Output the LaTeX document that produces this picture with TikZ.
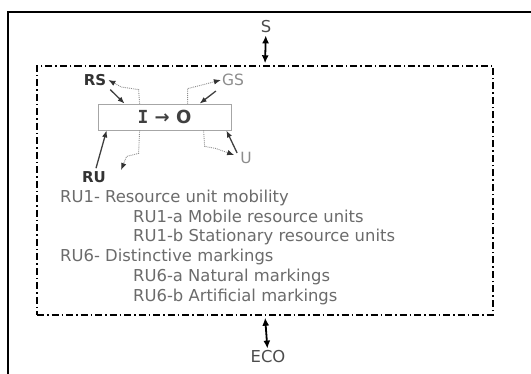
\documentclass[tikz,border=0pt]{standalone}
\usepackage{fontspec}
\setmainfont{DejaVu Sans}
\newfontfamily\slabfont{DejaVu Sans Mono}
\usetikzlibrary{arrows.meta,calc}
\begin{document}
\begin{tikzpicture}[x=1pt,y=-1pt,
  every node/.style={inner sep=1pt, font=\fontsize{16.4}{19}\selectfont},
  lst/.style={anchor=base west, text=black!58, inner sep=0pt},
  blbl/.style={font=\bfseries\fontsize{15}{18}\selectfont, text=black!80},
  glbl/.style={font=\fontsize{15.5}{18}\selectfont, text=black!45},
  tip/.style={-{Latex[length=7pt,width=5.5pt,color=black!80]}},
  solidc/.style={draw=black!75, line width=1.3pt, tip},
  dotc/.style={draw=black!45, densely dotted, line width=0.9pt, tip},
  dbl/.style={{Latex[length=8pt,width=7pt]}-{Latex[length=8pt,width=7pt]}, line width=1.8pt},
  sysbox/.style={draw, line width=1.4pt, dash pattern=on 7pt off 3pt on 1.5pt off 3pt,
    minimum width=456pt, minimum height=249pt, inner sep=0pt},
  iobox/.style={draw=black!35, line width=0.8pt, minimum width=133pt, minimum height=26pt,
    font=\bfseries\fontsize{18}{20}\selectfont, text=black!75},
]
\useasboundingbox (0,0) rectangle (531,374);
\draw[line width=2pt] (8,374) -- (8,12) -- (531,12);

\node[sysbox] (sys) at (265,190.5) {};
\node[text=black!70] (S) at (266,27) {S};
\node[text=black!70] (ECO) at (268,357) {ECO};
\draw[dbl, shorten <=1pt, shorten >=2pt] (S) -- (sys.north);
\draw[dbl, shorten <=2pt, shorten >=1pt] (sys.south) -- (ECO);

\node[iobox] (io) at (164.5,117) {{\slabfont I}\hspace{0.35em}→\hspace{0.35em}O};

\node[blbl] (RS) at (95,80) {RS};
\node[glbl] (GS) at (233,80) {GS};
\node[glbl] (U) at (246,158) {U};
\node[blbl] (RU) at (94,177) {RU};

% RS
\draw[solidc, shorten <=4pt] (RS.south east) -- ($(io.north west)+(27,0)$);
\draw[dotc] ($(io.north west)+(42,0)$) -- ($(io.north west)+(41,-14)$) -- ($(RS.east)+(14,7)$) -- ($(RS.east)+(1,0)$);
% GS
\draw[dotc] ($(io.north west)+(90,0)$) -- ($(io.north west)+(90,-15)$) -- ($(io.north west)+(102,-18)$) -- (GS.west);
\draw[solidc] ($(GS.south west)+(-5,4)$) -- ($(io.north west)+(102,0)$);
% U
\draw[solidc] ($(U.north west)+(-2,2)$) -- ($(io.south east)+(-5,0)$);
\draw[dotc] ($(io.south west)+(106,0)$) -- ($(io.south west)+(107,16)$) -- ($(io.south west)+(118,18)$) -- ($(U.west)+(-5,-3)$);
% RU
\draw[solidc] ($(RU.north)+(2,-2)$) -- ($(io.south west)+(9,0)$);
\draw[dotc] ($(io.south west)+(42,0)$) -- ($(io.south west)+(41,23)$) -- ($(io.south west)+(29,26)$) -- ($(RU.east)+(14,-7)$);

\node[lst] (l1) at (60,203) {RU1- Resource unit mobility};
\node[lst] (l2) at (133,222.5) {RU1-a Mobile resource units};
\node[lst] (l3) at (133,242) {RU1-b Stationary resource units};
\node[lst] (l4) at (60,262) {RU6- Distinctive markings};
\node[lst] (l5) at (133,282) {RU6-a Natural markings};
\node[lst] (l6) at (133,301.5) {RU6-b Artificial markings};
\end{tikzpicture}
\end{document}
